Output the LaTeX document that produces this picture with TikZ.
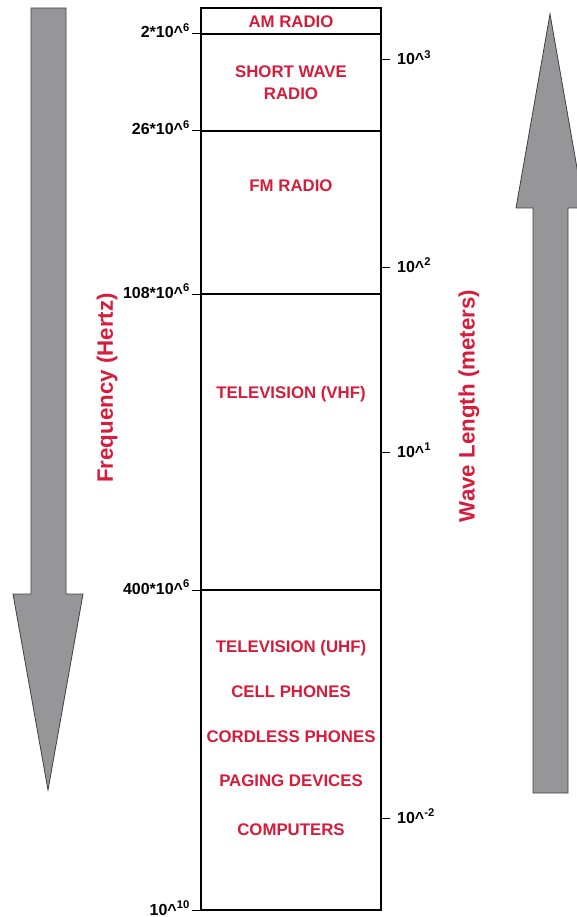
\documentclass[tikz,border=0pt]{standalone}
\usepackage{fontspec}
\setmainfont{Liberation Sans}
\definecolor{bandred}{RGB}{214,28,58}
\definecolor{arrowgray}{RGB}{150,150,152}
\tikzset{
  band/.style={text=bandred, font=\fontsize{16.8}{22}\selectfont\bfseries, align=center},
  scalelbl/.style={font=\fontsize{16}{18}\selectfont\bfseries, inner sep=0pt},
  axislbl/.style={text=bandred, font=\fontsize{22.3}{25}\selectfont\bfseries, rotate=90},
  bigarrow/.style={fill=arrowgray, draw=black!75, line width=0.8pt, line join=miter},
}
\begin{document}
\begin{tikzpicture}[x=1pt,y=-1pt]
  \useasboundingbox (0,0) rectangle (577,917);
  \clip (0,0) rectangle (577,917);

  % Pfeil links (nach unten) und Pfeil rechts (nach oben)
  \draw[bigarrow] (31,8) -- (66,8) -- (66,594) -- (83,594) -- (48,790) -- (13,594) -- (31,594) -- cycle;
  \draw[bigarrow] (533,793) -- (568,793) -- (568,208) -- (584,208) -- (550,14) -- (516,208) -- (533,208) -- cycle;

  % Spektrum-Kasten
  \draw[line width=2pt] (201,8) rectangle (381,910);

  % Frequenzgrenzen (links)
  \foreach \y/\lbl in {34/{2*10\textasciicircum\textsuperscript{6}},
                       131/{26*10\textasciicircum\textsuperscript{6}},
                       294/{108*10\textasciicircum\textsuperscript{6}},
                       590/{400*10\textasciicircum\textsuperscript{6}}} {
    \draw[line width=2pt] (201,\y) -- (381,\y);
    \draw[line width=1pt] (192,\y) -- (201,\y);
    \node[scalelbl, anchor=base east] at (190,\y+4) {\lbl};
  }
  \draw[line width=1pt] (192,910) -- (201,910);
  \node[scalelbl, anchor=base east] (fmax) at (190,915) {10\textasciicircum\textsuperscript{10}};

  % Wellenlaengen (rechts)
  \foreach \y/\e in {60/3, 267/2, 452/1, 818/-2} {
    \draw[line width=1pt] (381,\y) -- (390,\y);
    \node[scalelbl, anchor=base west] at (397,\y+5) {10\textasciicircum\textsuperscript{\e}};
  }

  % Baender
  \node[band] (am) at (291,22) {AM RADIO};
  \node[band] (sw) at (291,83) {SHORT WAVE\\RADIO};
  \node[band] (fm) at (291,186) {FM RADIO};
  \node[band] (vhf) at (291,394) {TELEVISION (VHF)};
  \node[band] (uhf) at (291,648) {TELEVISION (UHF)};
  \node[band] (cell) at (291,692) {CELL PHONES};
  \node[band] (cordless) at (291,737) {CORDLESS PHONES};
  \node[band] (paging) at (291,781) {PAGING DEVICES};
  \node[band] (comp) at (291,830) {COMPUTERS};

  % Achsenbeschriftungen
  \node[axislbl] (freq) at (107,388) {Frequency (Hertz)};
  \node[axislbl] (wave) at (469,406) {Wave Length (meters)};
\end{tikzpicture}
\end{document}
